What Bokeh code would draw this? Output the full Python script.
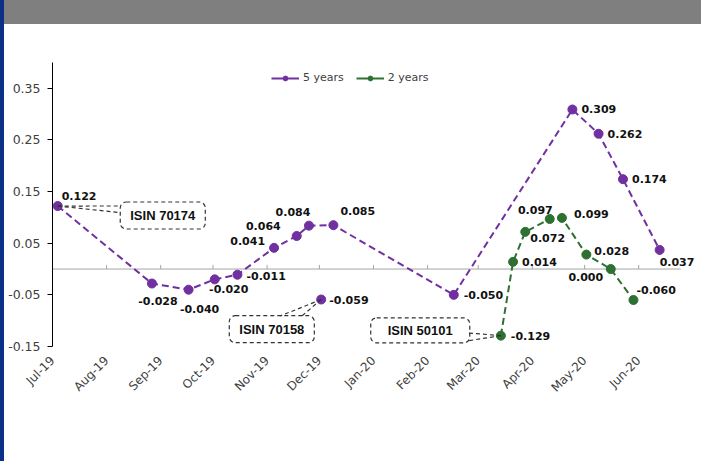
import numpy as np
import pandas as pd
from bokeh.plotting import figure
from bokeh.models import (ColumnDataSource, Range1d, FixedTicker, DatetimeTickFormatter,
                          NumeralTickFormatter, Legend, LegendItem, Label, LabelSet,
                          Arrow, Div)
from bokeh.layouts import column, row
from bokeh.embed import file_html
from bokeh.resources import INLINE
from bokeh.core.properties import value

# ---------------- data ----------------
dates_5y = ["2019-07-04", "2019-08-27", "2019-09-17", "2019-10-02", "2019-10-15",
            "2019-11-05", "2019-11-18", "2019-11-25", "2019-12-09", "2020-02-16",
            "2020-04-24", "2020-05-09", "2020-05-23", "2020-06-13"]
vals_5y = [0.122, -0.028, -0.040, -0.020, -0.011, 0.041, 0.064, 0.084, 0.085,
           -0.050, 0.309, 0.262, 0.174, 0.037]

dates_2y = ["2020-03-14", "2020-03-21", "2020-03-28", "2020-04-11", "2020-04-18",
            "2020-05-02", "2020-05-16", "2020-05-29"]
vals_2y = [-0.129, 0.014, 0.072, 0.097, 0.099, 0.028, 0.000, -0.060]

dates_extra = ["2019-12-02"]
vals_extra = [-0.059]

month_ticks = ["2019-07-01", "2019-08-01", "2019-09-01", "2019-10-01", "2019-11-01",
               "2019-12-01", "2020-01-01", "2020-02-01", "2020-03-01", "2020-04-01",
               "2020-05-01", "2020-06-01"]
y_ticks = [-0.15, -0.05, 0.05, 0.15, 0.25, 0.35]

series_names = ["5 years", "2 years"]
box_texts = ["ISIN 70174", "ISIN 70158", "ISIN 50101"]

# ---------------- styling / layout ----------------
PURPLE = "#7030A0"
GREEN = "#2E7032"
FONT = "DejaVu Sans"
X_START, X_END, AXIS_END = "2019-07-01", "2020-07-07", "2020-06-25"

# label placement (align, dx, dy[down]) per point
lab5 = [("left", 4, -10), ("center", 6, 17), ("center", 11, 19), ("center", 14, 10),
        ("left", 9, 1), ("right", -9, -7), ("right", -16, -10), ("center", -16, -14),
        ("left", 7, -14), ("left", 10, 0), ("left", 9, 0), ("left", 9, 0),
        ("left", 9, 0), ("left", 0, 12)]
lab2 = [("left", 10, 0), ("left", 9, 0), ("left", 5, 6), ("right", 3, -9),
        ("left", 12, -4), ("left", 8, -4), ("center", -25, 8), ("left", 3, -10)]
labx = [("left", 8, 0)]


def ms(s):
    return pd.Timestamp(s).timestamp() * 1000.0


def make_src(dates, vals, labs):
    return ColumnDataSource(dict(
        x=pd.to_datetime(dates), y=vals,
        txt=[f"{v:.3f}" for v in vals],
        align=[a for a, _, _ in labs],
        dx=[d for _, d, _ in labs],
        dy=[-d for _, _, d in labs],
    ))


src5 = make_src(dates_5y, vals_5y, lab5)
src2 = make_src(dates_2y, vals_2y, lab2)
srcx = make_src(dates_extra, vals_extra, labx)

W, H = 697, 437
p = figure(width=W, height=H, x_axis_type="datetime", output_backend="svg",
           toolbar_location=None,
           x_range=Range1d(ms(X_START), ms(X_END)),
           y_range=Range1d(-0.15, 0.40),
           min_border_left=48, min_border_right=0, min_border_top=38,
           min_border_bottom=115)
p.outline_line_color = None
p.grid.visible = False
p.background_fill_color = "white"

# axes
xa = p.xaxis[0]
xa.ticker = FixedTicker(ticks=[ms(m) for m in month_ticks])
xa.formatter = DatetimeTickFormatter(days="%b-%y", months="%b-%y", years="%b-%y")
xa.axis_line_color = None
xa.major_tick_line_color = None
xa.minor_tick_line_color = None
xa.major_label_orientation = np.pi / 4
xa.major_label_text_font = FONT
xa.major_label_text_font_size = "12px"
xa.major_label_text_color = "#404040"
xa.major_label_standoff = 6

ya = p.yaxis[0]
ya.ticker = FixedTicker(ticks=y_ticks)
ya.formatter = NumeralTickFormatter(format="0.00")
ya.axis_line_color = "#000000"
ya.axis_line_width = 1
ya.major_tick_line_color = "#000000"
ya.major_tick_out = 5
ya.major_tick_in = 0
ya.minor_tick_line_color = None
ya.major_label_text_font = FONT
ya.major_label_text_font_size = "12.5px"
ya.major_label_text_color = "#404040"
ya.major_label_standoff = 7

# zero line with inner month ticks
p.segment(x0=[pd.Timestamp(X_START)], y0=[0], x1=[pd.Timestamp(AXIS_END)], y1=[0],
          line_color="#A6A6A6", line_width=1)
p.segment(x0=pd.to_datetime(month_ticks[1:]), y0=0, x1=pd.to_datetime(month_ticks[1:]),
          y1=0.008, line_color="#A6A6A6", line_width=1)

# series
p.line("x", "y", source=src5, line_color=PURPLE, line_width=2, line_dash="7 4")
p.scatter("x", "y", source=src5, size=9, fill_color=PURPLE, line_color=PURPLE)
p.line("x", "y", source=src2, line_color=GREEN, line_width=2, line_dash="7 4")
p.scatter("x", "y", source=src2, size=9, fill_color=GREEN, line_color=GREEN)
p.scatter("x", "y", source=srcx, size=9, fill_color=PURPLE, line_color=PURPLE)

for s in (src5, src2, srcx):
    p.add_layout(LabelSet(x="x", y="y", text="txt", source=s, text_align="align",
                          x_offset="dx", y_offset="dy", text_baseline="middle",
                          text_font=value(FONT), text_font_size=value("11px"),
                          text_font_style=value("bold"), text_color=value("#111111")))

# callout boxes (padding order: left, right, top, bottom)
boxes = [(ms("2019-09-02 05:00"), 0.1037, (10, 10, 6, 6)),
         (ms("2019-11-03 17:00"), -0.1165, (10, 10, 6, 6)),
         (ms("2020-01-27 19:00"), -0.1188, (17, 17, 5, 5))]
for (bx, by, pad), t in zip(boxes, box_texts):
    p.add_layout(Label(x=bx, y=by, text=t, text_align="center", text_baseline="middle",
                       text_font="Liberation Sans", text_font_size="13px",
                       text_font_style="bold",
                       text_color="#111111", border_line_color="#333333",
                       border_line_dash="4 3", border_line_width=1.2,
                       background_fill_color="white", border_radius=6, padding=pad))

leaders = [
    (ms(dates_5y[0]), vals_5y[0], [(ms("2019-08-08 19:00"), 0.1221), (ms("2019-08-08 19:00"), 0.1092)]),
    (ms(dates_extra[0]), vals_extra[0], [(ms("2019-11-08 14:00"), -0.0908), (ms("2019-11-21 00:00"), -0.0908)]),
    (ms(dates_2y[0]), vals_2y[0], [(ms("2020-02-23 17:00"), -0.1237), (ms("2020-02-23 17:00"), -0.1392)]),
]
for sx, sy, ends in leaders:
    for ex, ey in ends:
        p.add_layout(Arrow(x_start=sx, y_start=sy, x_end=ex, y_end=ey, end=None,
                           line_color="#333333", line_width=1.2, line_dash="4 3"))

# legend with solid-line glyphs (renderers holding a single NaN point)
nan_src = ColumnDataSource(dict(x=[np.nan], y=[np.nan]))
l5 = p.line("x", "y", source=nan_src, line_color=PURPLE, line_width=2)
m5 = p.scatter("x", "y", source=nan_src, size=8, fill_color=PURPLE, line_color=PURPLE)
l2 = p.line("x", "y", source=nan_src, line_color=GREEN, line_width=2)
m2 = p.scatter("x", "y", source=nan_src, size=8, fill_color=GREEN, line_color=GREEN)
legend = Legend(items=[LegendItem(label=series_names[0], renderers=[l5, m5]),
                       LegendItem(label=series_names[1], renderers=[l2, m2])],
                orientation="horizontal", location=(219, 262),
                label_text_font=FONT, label_text_font_size="11px",
                label_text_color="#404040", glyph_width=28, glyph_height=12,
                label_standoff=4, spacing=12, padding=2, margin=0,
                border_line_color=None, background_fill_alpha=0)
p.add_layout(legend, "center")

header = Div(text="", width=W, height=24, margin=0,
             styles={"background-color": "#7F7F7F"})
strip = Div(text="", width=4, height=H + 24, margin=0,
            styles={"background-color": "#0A3087"})
layout = row(strip, column(header, p, spacing=0), spacing=0)

open("out.html", "w").write(file_html(layout, INLINE))
